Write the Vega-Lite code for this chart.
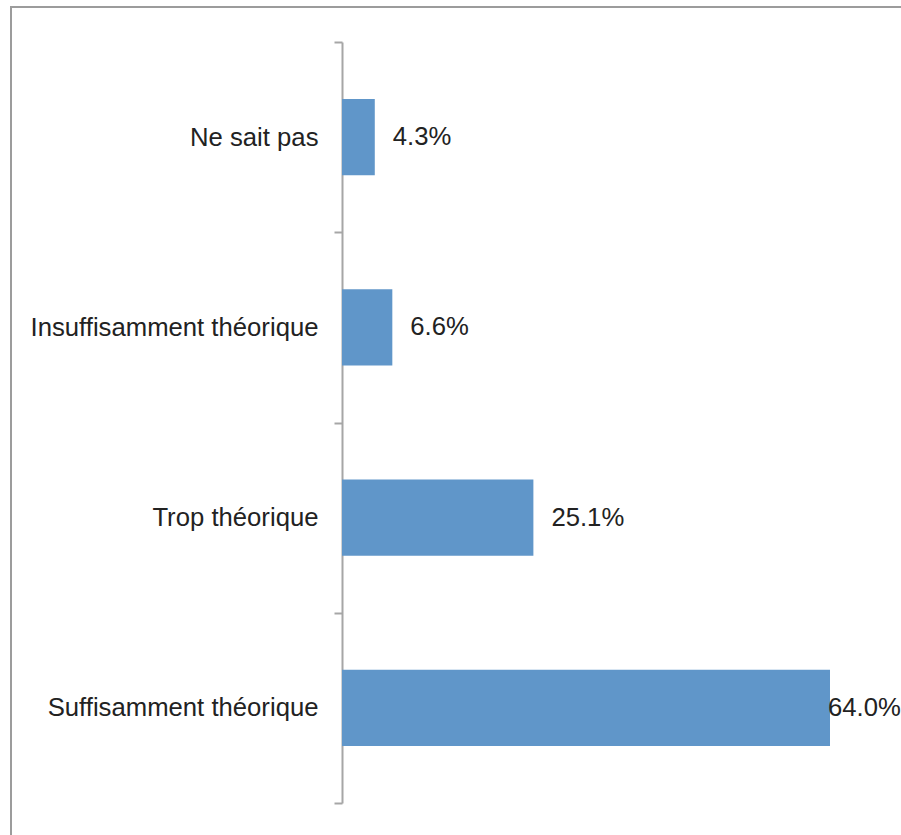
{
  "$schema": "https://vega.github.io/schema/vega-lite/v6.json",
  "width": 960,
  "height": 900,
  "autosize": {"type": "none"},
  "padding": {"left": 11, "top": 7, "right": -70, "bottom": -72},
  "background": "white",
  "config": {
    "view": {"stroke": "#9c9c9c", "strokeWidth": 2},
    "font": "Liberation Sans"
  },
  "data": {
    "values": [
      {"reponse": "Ne sait pas", "pct": 0.043},
      {"reponse": "Insuffisamment théorique", "pct": 0.066},
      {"reponse": "Trop théorique", "pct": 0.251},
      {"reponse": "Suffisamment théorique", "pct": 0.64}
    ]
  },
  "encoding": {
    "y": {
      "field": "reponse",
      "type": "nominal",
      "sort": null,
      "scale": {"range": [35, 796], "paddingInner": 0, "paddingOuter": 0},
      "axis": {
        "title": null,
        "offset": -331,
        "domainColor": "#a6a6a6",
        "domainWidth": 2,
        "tickColor": "#a6a6a6",
        "tickWidth": 2,
        "tickSize": 8,
        "tickBand": "extent",
        "labelFontSize": 25.7,
        "labelColor": "#222222",
        "labelPadding": 16,
        "labelFont": "Liberation Sans",
        "labelLimit": 400
      }
    },
    "x": {
      "field": "pct",
      "type": "quantitative",
      "scale": {"domain": [0, 0.64], "range": [331, 819]},
      "axis": null
    }
  },
  "layer": [
    {"mark": {"type": "bar", "color": "#6096c9", "height": {"band": 0.4}}},
    {
      "transform": [{"filter": "datum.pct < 0.5"}],
      "mark": {"type": "text", "align": "left", "baseline": "middle", "dx": 18, "fontSize": 25.7, "color": "#222222", "font": "Liberation Sans"},
      "encoding": {"text": {"field": "pct", "type": "quantitative", "format": ".1%"}}
    },
    {
      "transform": [{"filter": "datum.pct >= 0.5"}],
      "mark": {"type": "text", "align": "left", "baseline": "middle", "dx": -2, "fontSize": 25.7, "color": "#222222", "font": "Liberation Sans"},
      "encoding": {"text": {"field": "pct", "type": "quantitative", "format": ".1%"}}
    }
  ]
}
